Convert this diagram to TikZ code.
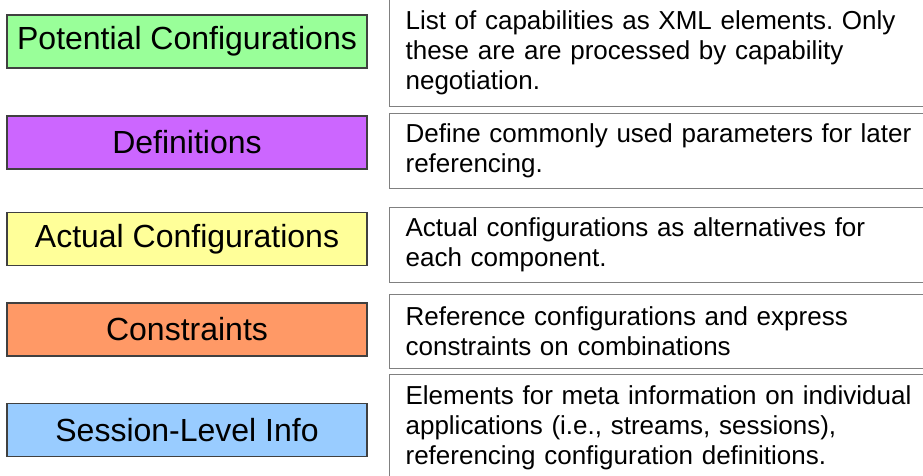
\documentclass[tikz,border=0pt]{standalone}
\usepackage{fontspec}
\setmainfont{Liberation Sans}
\frenchspacing
\definecolor{potgreen}{HTML}{99FF99}
\definecolor{defpurple}{HTML}{CC66FF}
\definecolor{actyellow}{HTML}{FFFF99}
\definecolor{conorange}{HTML}{FF9966}
\definecolor{sesblue}{HTML}{99CCFF}
\tikzset{
  part/.style={draw=black!75, line width=1.2pt, minimum width=360pt, minimum height=53pt, inner sep=0pt, font=\fontsize{32}{36}\selectfont},
  desc/.style={draw=black!50, line width=1.2pt, anchor=north west, minimum width=560pt, text width=528pt, align=left, inner xsep=12pt, inner ysep=0pt, font=\fontsize{26}{30}\selectfont}
}
\begin{document}
\begin{tikzpicture}[x=1pt,y=-1pt]
\useasboundingbox (0,0) rectangle (923,475);

\node[part, fill=potgreen] (pot) at (187,41.5) {Potential Configurations};
\node[part, fill=defpurple] (def) at (187,142.5) {Definitions};
\node[part, fill=actyellow] (act) at (187,239) {Actual Configurations};
\node[part, fill=conorange] (con) at (187,329.5) {Constraints};
\node[part, fill=sesblue] (ses) at (187,430) {Session-Level Info};

\node[desc, minimum height=107pt] (potd) at (389,-1) {List of capabilities as XML elements. Only\\these are are processed by capability\\negotiation.};
\node[desc, minimum height=75pt] (defd) at (389,113) {Define commonly used parameters for later\\referencing.};
\node[desc, minimum height=75pt] (actd) at (389,207) {Actual configurations as alternatives for\\each component.};
\node[desc, minimum height=74pt] (cond) at (389,294) {Reference configurations and express\\constraints on combinations};
\node[desc, minimum height=107pt] (sesd) at (389,374) {Elements for meta information on individual\\applications (i.e., streams, sessions),\\referencing configuration definitions.};
\end{tikzpicture}
\end{document}
